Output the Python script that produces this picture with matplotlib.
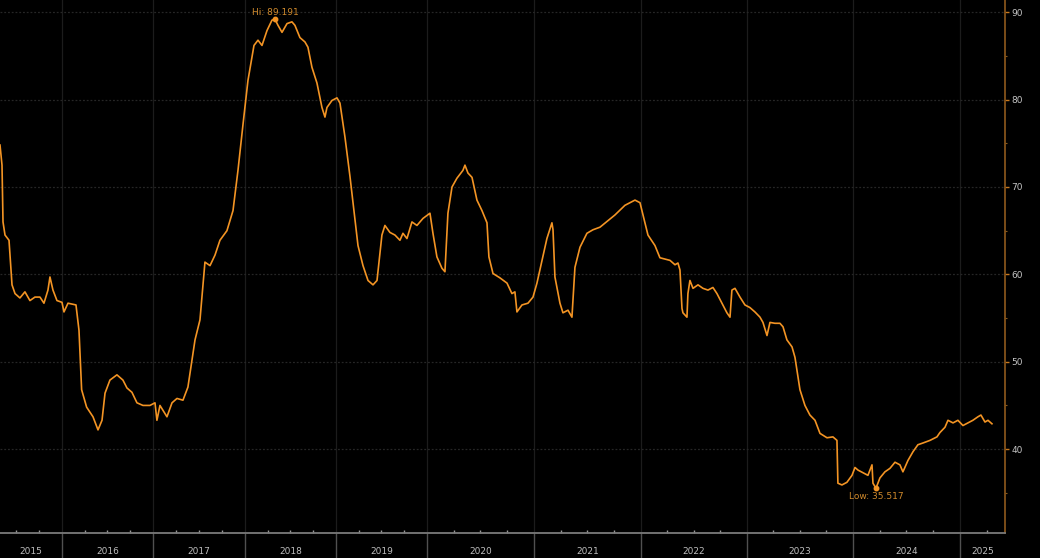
import numpy as np
import matplotlib
matplotlib.use("Agg")
import matplotlib.pyplot as plt
import matplotlib.transforms as mtransforms

# ---------------- data (decimal year, value) ----------------
years = [
    2015.319, 2015.341, 2015.352, 2015.374, 2015.418, 2015.451, 2015.484, 2015.538, 2015.593, 2015.648,
    2015.703, 2015.758, 2015.802, 2015.846, 2015.868, 2015.901, 2015.945, 2016.000, 2016.022, 2016.066,
    2016.154, 2016.187, 2016.216, 2016.271, 2016.341, 2016.396, 2016.440, 2016.473, 2016.527, 2016.604,
    2016.670, 2016.714, 2016.769, 2016.824, 2016.890, 2016.967, 2017.022, 2017.043, 2017.076, 2017.152,
    2017.207, 2017.261, 2017.326, 2017.380, 2017.435, 2017.457, 2017.511, 2017.565, 2017.620, 2017.674,
    2017.728, 2017.804, 2017.870, 2017.924, 2017.978, 2018.033, 2018.099, 2018.143, 2018.187, 2018.242,
    2018.297, 2018.330, 2018.363, 2018.407, 2018.462, 2018.516, 2018.549, 2018.604, 2018.659, 2018.692,
    2018.736, 2018.791, 2018.846, 2018.879, 2018.901, 2018.956, 2019.011, 2019.044, 2019.099, 2019.154,
    2019.209, 2019.242, 2019.297, 2019.352, 2019.407, 2019.451, 2019.505, 2019.538, 2019.593, 2019.648,
    2019.703, 2019.736, 2019.780, 2019.835, 2019.890, 2019.956, 2020.028, 2020.056, 2020.093, 2020.140,
    2020.168, 2020.196, 2020.234, 2020.280, 2020.336, 2020.355, 2020.383, 2020.421, 2020.467, 2020.514,
    2020.561, 2020.579, 2020.617, 2020.682, 2020.748, 2020.794, 2020.822, 2020.841, 2020.888, 2020.944,
    2020.991, 2021.028, 2021.075, 2021.121, 2021.168, 2021.178, 2021.196, 2021.243, 2021.271, 2021.318,
    2021.355, 2021.383, 2021.430, 2021.495, 2021.551, 2021.617, 2021.757, 2021.850, 2021.944, 2021.991,
    2022.019, 2022.066, 2022.132, 2022.179, 2022.274, 2022.321, 2022.349, 2022.368, 2022.387, 2022.396,
    2022.434, 2022.443, 2022.462, 2022.491, 2022.538, 2022.585, 2022.632, 2022.679, 2022.717, 2022.764,
    2022.811, 2022.840, 2022.858, 2022.887, 2022.934, 2022.981, 2023.028, 2023.075, 2023.123, 2023.151,
    2023.189, 2023.217, 2023.264, 2023.311, 2023.340, 2023.377, 2023.425, 2023.453, 2023.500, 2023.547,
    2023.594, 2023.642, 2023.689, 2023.755, 2023.811, 2023.849, 2023.858, 2023.896, 2023.943, 2023.991,
    2024.019, 2024.047, 2024.093, 2024.140, 2024.178, 2024.187, 2024.215, 2024.252, 2024.299, 2024.346,
    2024.393, 2024.439, 2024.467, 2024.514, 2024.561, 2024.607, 2024.654, 2024.720, 2024.785, 2024.813,
    2024.860, 2024.888, 2024.935, 2024.981, 2025.028, 2025.075, 2025.121, 2025.168, 2025.196, 2025.234,
    2025.262, 2025.299,
]
values = [
    74.8, 72.5, 66.0, 64.5, 63.9, 58.8, 57.8, 57.3, 58.0, 57.0,
    57.4, 57.4, 56.7, 58.2, 59.7, 58.2, 57.0, 56.8, 55.7, 56.7,
    56.5, 53.6, 46.8, 44.8, 43.7, 42.2, 43.3, 46.4, 47.9, 48.5,
    47.9, 47.0, 46.5, 45.3, 45.0, 45.0, 45.3, 43.3, 45.0, 43.7,
    45.3, 45.8, 45.6, 47.1, 51.0, 52.5, 54.8, 61.4, 61.0, 62.2,
    63.9, 65.0, 67.3, 71.9, 77.1, 82.2, 86.2, 86.8, 86.2, 87.9,
    89.1, 89.191, 88.5, 87.7, 88.7, 88.9, 88.5, 87.1, 86.6, 86.0,
    83.7, 81.9, 79.1, 78.0, 79.1, 79.9, 80.2, 79.6, 75.7, 71.2,
    66.2, 63.3, 61.0, 59.3, 58.8, 59.3, 64.5, 65.6, 64.8, 64.5,
    63.9, 64.7, 64.1, 66.0, 65.6, 66.4, 67.0, 64.7, 62.0, 60.7,
    60.3, 67.0, 70.0, 71.0, 71.9, 72.5, 71.6, 71.1, 68.5, 67.3,
    65.9, 62.0, 60.1, 59.6, 59.0, 57.8, 58.0, 55.7, 56.5, 56.7,
    57.4, 59.0, 61.6, 64.1, 65.9, 65.1, 59.7, 56.7, 55.6, 55.9,
    55.1, 60.8, 63.1, 64.7, 65.1, 65.4, 66.8, 67.9, 68.5, 68.2,
    66.8, 64.5, 63.3, 61.9, 61.6, 61.1, 61.3, 60.5, 56.1, 55.6,
    55.1, 57.8, 59.3, 58.4, 58.8, 58.4, 58.2, 58.5, 57.8, 56.7,
    55.6, 55.1, 58.2, 58.4, 57.4, 56.5, 56.2, 55.7, 55.1, 54.5,
    53.0, 54.5, 54.4, 54.4, 54.0, 52.5, 51.7, 50.5, 46.8, 45.0,
    43.9, 43.3, 41.8, 41.3, 41.4, 41.0, 36.1, 35.9, 36.2, 37.0,
    37.9, 37.6, 37.3, 37.0, 38.2, 36.1, 35.517, 36.7, 37.4, 37.8,
    38.5, 38.2, 37.4, 38.7, 39.7, 40.5, 40.7, 41.0, 41.4, 41.9,
    42.5, 43.3, 43.0, 43.3, 42.7, 43.0, 43.3, 43.7, 43.9, 43.1,
    43.3, 42.9,
]
hi_year, hi_value = 2018.330, 89.191
low_year, low_value = 2024.215, 35.517
year_labels = [str(y) for y in range(2015, 2026)]

# ---------------- style ----------------
BG = "black"
LINE = "#f39424"
x_min, x_max = 2015.319, 2025.421
y_min, y_max = 30.4, 91.4

# non-uniform year widths as shown in the reference axis
knot_years = np.arange(2015, 2027)
knot_pos = np.array([-29, 62, 153, 245, 336, 427, 534, 641, 747, 853, 960, 1067], dtype=float)

def fwd(x):
    return np.interp(x, knot_years, knot_pos)

def inv(p):
    return np.interp(p, knot_pos, knot_years)

fig = plt.figure(figsize=(10.4, 5.58), dpi=100, facecolor=BG)
ax = fig.add_axes([0.0, 25 / 558, 1005 / 1040, 533 / 558], facecolor=BG)
ax.set_xscale("function", functions=(fwd, inv))

ax.plot(years, values, color=LINE, lw=1.2, solid_joinstyle="round", zorder=3)

ax.set_xlim(x_min, x_max)
ax.set_ylim(y_min, y_max)

# x ticks: year separators (major) and quarters (minor)
majors = list(range(2016, 2026))
ax.set_xticks(majors)
ax.set_xticklabels([""] * len(majors))
minors = [y + q / 4 for y in range(2015, 2026) for q in (1, 2, 3) if x_min < y + q / 4 < x_max]
ax.set_xticks(minors, minor=True)
ax.tick_params(axis="x", which="major", direction="out", length=19, width=1.0, color="#505050")
ax.tick_params(axis="x", which="minor", direction="in", length=2.5, width=1.0, color="#999999")

# year labels centred in visible portion of each year
trans = mtransforms.blended_transform_factory(ax.transData, fig.transFigure)
for lab in year_labels:
    y0 = max(int(lab), x_min)
    y1 = min(int(lab) + 1, x_max)
    mid = inv((fwd(y0) + fwd(y1)) / 2)
    ax.text(mid, 7 / 558, lab, transform=trans, ha="center", va="center",
            color="#bdbdbd", fontsize=6.5)

# y axis on the right
ax.yaxis.tick_right()
ax.set_yticks([40, 50, 60, 70, 80, 90])
ax.set_yticks([35, 45, 55, 65, 75, 85], minor=True)
ax.tick_params(axis="y", which="major", direction="out", length=3, width=1.0,
               color="#c8781e", labelcolor="#c4c4c4", labelsize=6.5, pad=1.5)
ax.tick_params(axis="y", which="minor", direction="out", length=1.5, width=0.8, color="#8a5a1e")

# spines
for s in ("top", "left"):
    ax.spines[s].set_visible(False)
ax.spines["right"].set_color("#8f5a1c")
ax.spines["right"].set_linewidth(1.2)
ax.spines["bottom"].set_color("#7a7a7a")
ax.spines["bottom"].set_linewidth(1.3)

# grid
ax.grid(axis="x", which="major", color="#1c1c1c", lw=0.9, ls="-")
ax.grid(axis="y", which="major", color="#262626", lw=0.9, ls=(0, (1.5, 1.5)))
ax.set_axisbelow(True)

# Hi / Low annotations
ax.plot([hi_year], [hi_value], "o", color=LINE, ms=3.2, zorder=4)
ax.annotate(f"Hi: {hi_value:.3f}", (hi_year, hi_value), xytext=(0, 5), textcoords="offset points",
            ha="center", va="center", color="#d08a2c", fontsize=6.5)
ax.plot([low_year], [low_value], "o", color=LINE, ms=3.2, zorder=4)
ax.annotate(f"Low: {low_value:.3f}", (low_year, low_value), xytext=(0, -6), textcoords="offset points",
            ha="center", va="center", color="#d08a2c", fontsize=6.5)

fig.savefig("out.png", dpi=100, facecolor=BG)
